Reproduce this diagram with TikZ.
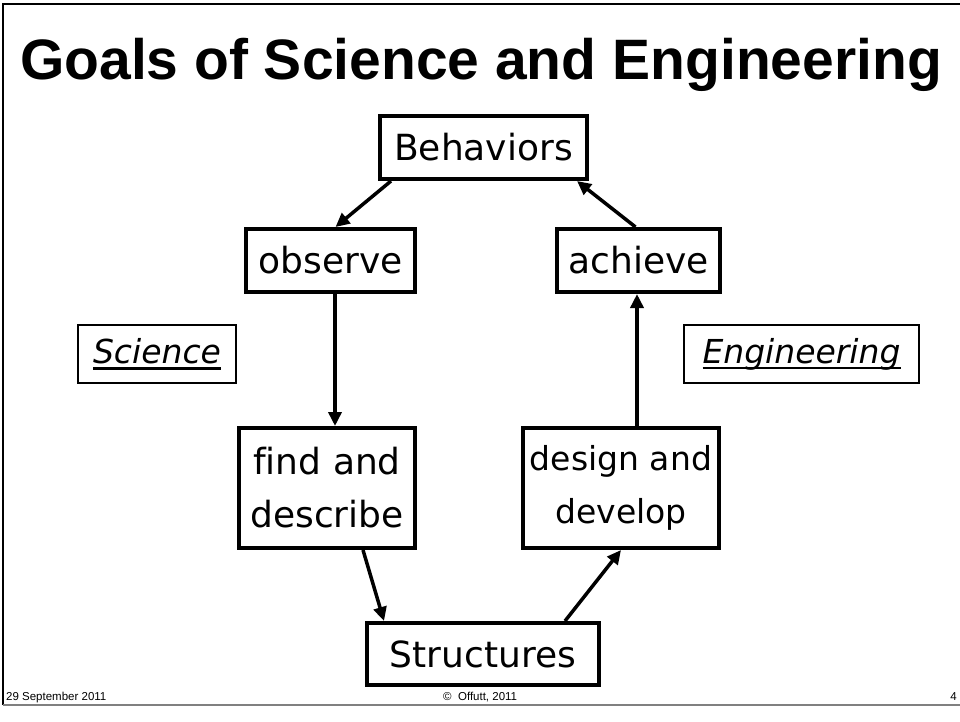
\documentclass[tikz,border=0pt]{standalone}
\usepackage{fontspec}
\setmainfont{Liberation Sans}
\newfontfamily\boxfont[Ligatures={NoCommon}]{DejaVu Sans}
\usetikzlibrary{arrows.meta}
\newcommand\myul[1]{\setbox0\hbox{#1}\rlap{\rule[-6pt]{\wd0}{2.5pt}}\box0}
\tikzset{
  box/.style={draw, line width=4pt, inner sep=0pt, align=center,
    font=\boxfont\fontsize{36}{53}\selectfont},
  lbl/.style={draw, line width=1.5pt, inner sep=0pt,
    font=\boxfont\itshape\fontsize{33}{38}\selectfont},
  arr/.style={line width=3.5pt, -{Triangle[length=14pt,width=13pt]}},
  foot/.style={font=\fontsize{11.5}{13}\selectfont, inner sep=0pt}
}
\begin{document}
\begin{tikzpicture}[x=1pt,y=-1pt]
\useasboundingbox (0,0) rectangle (960,721);
% frame
\draw[line width=2pt] (3,705) -- (3,4) -- (960,4);
\draw[line width=2pt, gray] (3,705) -- (960,705);
% title
\node[anchor=base, inner sep=0pt, font=\bfseries\fontsize{57}{60}\selectfont] (title) at (481,79) {Goals of Science and Engineering};
% nodes
\node[box, minimum width=207pt, minimum height=63pt] (beh) at (483.5,147.5) {Behaviors};
\node[box, minimum width=169pt, minimum height=63pt] (obs) at (330.5,260.5) {observe};
\node[box, minimum width=163pt, minimum height=63pt] (ach) at (638.5,260.5) {achieve};
\node[box, minimum width=176pt, minimum height=120pt] (find) at (327,488) {find and\\describe};
\node[box, minimum width=196pt, minimum height=120pt, font=\boxfont\fontsize{33}{53}\selectfont] (des) at (621,488) {design and\\develop};
\node[box, minimum width=232pt, minimum height=62pt] (str) at (483,654) {Structures};
\node[lbl, minimum width=158pt, minimum height=58pt] (sci) at (157,354) {\myul{Science}};
\node[lbl, minimum width=235pt, minimum height=58pt] (eng) at (801.5,354) {\myul{Engineering}};
% arrows
\draw[arr] ([xshift=13pt]beh.south west) -- ([xshift=5pt]obs.north);
\draw[arr] ([xshift=-3pt]ach.north) -- ([xshift=-12pt]beh.south east);
\draw[arr] ([xshift=4.5pt]obs.south) -- ([xshift=8pt]find.north);
\draw[arr] ([xshift=-54pt]find.south east) -- ([xshift=19pt]str.north west);
\draw[arr] ([xshift=-36pt]str.north east) -- (des.south);
\draw[arr] ([xshift=16pt]des.north) -- ([xshift=-1.5pt]ach.south);
% footer
\node[foot, anchor=base west] (date) at (6,700) {29 September 2011};
\node[foot, anchor=base west] (copy) at (443,700) {©\ \ Offutt, 2011};
\node[foot, anchor=base east] (page) at (957,700) {4};
\end{tikzpicture}
\end{document}
